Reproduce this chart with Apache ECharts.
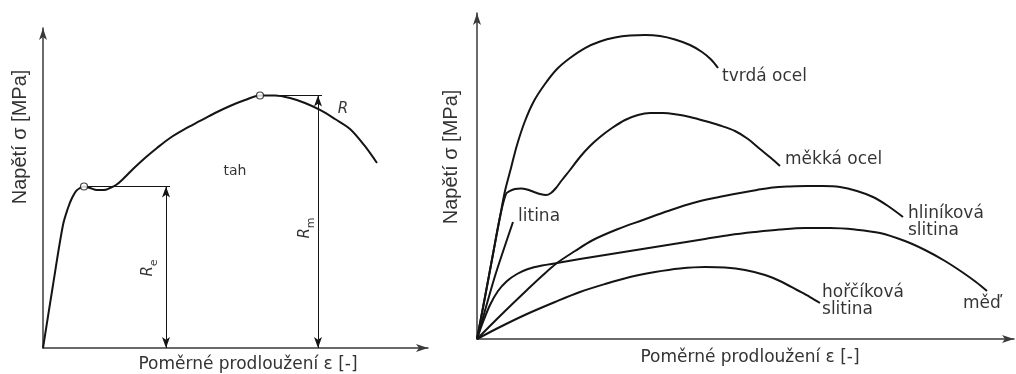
<!DOCTYPE html>
<html>
<head>
<meta charset="utf-8">
<script src="https://cdn.jsdelivr.net/npm/echarts@6/dist/echarts.min.js"></script>
<style>
html,body{margin:0;padding:0;background:#fff;}
#chart{width:1016px;height:374px;}
</style>
</head>
<body>
<div id="chart"></div>
<script>
// ---------- data (arbitrary units 0..100 on each panel) ----------
// Left panel: single stress-strain curve (tension)
const tahCurve = [[0,0],[2.60,19.69],[5.19,38.44],[6.49,43.75],[7.53,46.88],[8.57,49.06],[9.61,50.0],[10.65,50.47],[12.21,50.0],[14.03,49.38],[15.84,49.38],[17.40,50.0],[18.96,50.94],[20.78,52.81],[23.38,55.94],[26.49,59.38],[29.61,62.5],[32.99,65.63],[36.88,68.44],[40.78,70.94],[44.68,73.44],[48.57,75.63],[52.47,77.5],[56.36,78.91],[60.26,78.91],[64.16,78.13],[68.05,76.56],[71.95,74.38],[75.84,71.56],[79.74,68.44],[83.38,63.44],[86.75,57.81]];
const yieldPoint = [10.65, 50.47];
const peakPoint = [56.36, 78.91];
const reDimX = 31.95, reLineEnd = 32.99;
const rmDimX = 71.43, rmLineEnd = 72.47;

// Right panel: material curves
const tvrdaOcel = [[0,0],[1.49,12.88],[2.98,26.07],[4.28,37.42],[5.21,45.40],[6.33,52.45],[7.45,59.51],[8.94,66.87],[10.61,73.01],[12.66,78.22],[14.90,82.82],[17.32,86.20],[20.11,89.26],[22.91,91.26],[25.70,92.48],[28.49,93.10],[31.28,93.25],[34.08,92.94],[36.87,91.87],[39.66,90.18],[41.90,88.04],[43.58,85.74],[44.88,83.13]];
const mekkaOcel = [[0,0],[1.49,12.88],[2.98,26.07],[4.28,37.42],[5.40,44.48],[6.15,45.40],[7.08,46.01],[8.19,46.17],[9.31,45.86],[10.61,45.09],[11.73,44.48],[12.85,44.17],[13.78,44.79],[14.71,46.32],[15.83,48.77],[17.32,51.84],[19.18,55.83],[21.04,59.20],[22.91,61.96],[25.14,64.72],[27.56,67.18],[29.98,68.71],[32.22,69.33],[34.64,69.33],[37.24,68.87],[39.66,68.10],[42.46,66.87],[45.25,65.49],[48.04,63.80],[50.47,61.35],[52.70,58.28],[54.75,55.52],[56.42,53.07]];
const litina = [[0,0],[3.35,19.33],[6.70,35.9]];
const hlinikova = [[0,0],[4.66,7.67],[9.31,15.03],[12.10,19.33],[14.90,23.31],[18.25,26.99],[21.60,30.37],[26.26,33.74],[30.91,36.50],[35.57,39.26],[40.22,41.72],[44.69,43.40],[48.98,44.79],[52.14,45.71],[55.12,46.47],[58.29,46.78],[61.45,46.93],[64.43,46.93],[67.60,46.63],[70.76,45.40],[73.74,43.56],[76.54,40.80],[79.33,37.42]];
const med = [[0,0],[1.12,5.21],[2.42,10.43],[3.91,14.72],[5.59,17.79],[7.45,19.94],[9.50,21.47],[12.10,22.55],[14.90,23.31],[19.18,24.54],[23.84,25.77],[28.49,26.99],[33.15,28.22],[37.80,29.45],[42.46,30.67],[47.11,31.90],[51.77,32.82],[56.42,33.59],[61.08,34.05],[65.74,34.05],[70.39,33.59],[75.05,32.52],[79.70,30.06],[83.43,27.30],[87.15,23.93],[90.32,20.55],[92.92,17.48],[94.97,14.72]];
const horcikova = [[0,0],[4.28,3.68],[9.31,7.67],[14.53,11.35],[19.18,14.42],[23.84,16.87],[28.49,19.02],[33.15,20.55],[37.80,21.63],[42.46,22.09],[46.18,21.93],[49.91,21.17],[53.63,19.63],[56.80,17.48],[59.59,15.03],[62.01,12.88],[63.87,11.04]];

// Text annotations: [x, y, text]
const rightLabels = [
  [45.62, 80.4, 'tvrdá ocel'],
  [57.36, 54.9, 'měkká ocel'],
  [7.64, 37.4, 'litina'],
  [80.26, 36.0, 'hliníková\nslitina'],
  [64.25, 11.5, 'hořčíková\nslitina'],
  [90.5, 11.0, 'měď']
];
const tahLabel = [49.87, 55.3, 'tah'];
const rLabel = [77.9, 74.7, 'R'];
const reLabel = [27.8, 25.0];
const rmLabel = [68.6, 37.5];

const yTitle = 'Napětí σ [MPa]';
const xTitle = 'Poměrné prodloužení ε [-]';

// ---------- chart ----------
const INK = '#141414';
const TXT = '#000000';
const AXIS = '#3a3a3a';
const chart = echarts.init(document.getElementById('chart'), null, {renderer:'canvas'});

function axisX(gi){
  return {gridIndex:gi, type:'value', min:0, max:100,
    axisLine:{show:true, onZero:false, symbol:['none','arrow'], symbolSize:[6,12], lineStyle:{color:AXIS, width:1.5}},
    axisTick:{show:false}, axisLabel:{show:false}, splitLine:{show:false}};
}
function axisY(gi){
  return {gridIndex:gi, type:'value', min:0, max:100,
    axisLine:{show:true, onZero:false, symbol:['none','arrow'], symbolSize:[6,12], lineStyle:{color:AXIS, width:1.5}},
    axisTick:{show:false}, axisLabel:{show:false}, splitLine:{show:false}};
}
function curve(gi, data, name){
  return {type:'line', name, xAxisIndex:gi, yAxisIndex:gi, data, smooth:0.33, showSymbol:false, silent:true,
    lineStyle:{color:INK, width:2}, z:3};
}
const dimStyle = {color:INK, width:1, type:'solid'};
const arrowEnd = {symbol:'arrow', symbolSize:[6,11]};
const noEnd = {symbol:'none'};

const labelFont = 'DejaVu Sans';
const subRich = {
  r:{fontFamily:labelFont, fontSize:15, fontStyle:'italic', color:TXT, verticalAlign:'top', lineHeight:15},
  s:{fontFamily:labelFont, fontSize:11, color:TXT, verticalAlign:'bottom', lineHeight:19}
};

const option = {
  backgroundColor:'#ffffff',
  animation:false,
  grid:[
    {left:43, top:28, width:385, height:320},
    {left:477, top:13, width:537, height:326}
  ],
  xAxis:[axisX(0), axisX(1)],
  yAxis:[axisY(0), axisY(1)],
  series:[
    Object.assign(curve(0, tahCurve, 'tah'), {
      markLine:{silent:true, symbol:['none','none'], label:{show:false}, lineStyle:dimStyle,
        data:[
          [Object.assign({coord:yieldPoint}, noEnd), Object.assign({coord:[reLineEnd, yieldPoint[1]]}, noEnd)],
          [Object.assign({coord:[reDimX, yieldPoint[1]]}, arrowEnd), Object.assign({coord:[reDimX, 0]}, arrowEnd)],
          [Object.assign({coord:peakPoint}, noEnd), Object.assign({coord:[rmLineEnd, peakPoint[1]]}, noEnd)],
          [Object.assign({coord:[rmDimX, peakPoint[1]]}, arrowEnd), Object.assign({coord:[rmDimX, 0]}, arrowEnd)]
        ]}
    }),
    {type:'scatter', xAxisIndex:0, yAxisIndex:0, data:[yieldPoint, peakPoint], symbol:'circle', symbolSize:7, silent:true,
      itemStyle:{color:'#fff', borderColor:INK, borderWidth:1.2}, z:5},
    {type:'scatter', xAxisIndex:0, yAxisIndex:0, symbolSize:0, silent:true,
      data:[
        {value:[tahLabel[0], tahLabel[1]], label:{show:true, position:'inside', formatter:tahLabel[2], fontFamily:labelFont, fontSize:14, color:TXT}},
        {value:[rLabel[0], rLabel[1]], label:{show:true, position:'inside', formatter:rLabel[2], fontFamily:labelFont, fontSize:15, fontStyle:'italic', color:TXT}},
        {value:reLabel, label:{show:true, position:'inside', rotate:90, formatter:'{r|R}{s|e}', color:TXT, rich:subRich}},
        {value:rmLabel, label:{show:true, position:'inside', rotate:90, formatter:'{r|R}{s|m}', color:TXT, rich:subRich}}
      ], z:6},
    curve(1, tvrdaOcel, 'tvrdá ocel'),
    curve(1, mekkaOcel, 'měkká ocel'),
    Object.assign(curve(1, litina, 'litina'), {smooth:0.2}),
    curve(1, hlinikova, 'hliníková slitina'),
    curve(1, med, 'měď'),
    curve(1, horcikova, 'hořčíková slitina'),
    {type:'scatter', xAxisIndex:1, yAxisIndex:1, symbolSize:0, silent:true,
      data: rightLabels.map(l => ({value:[l[0], l[1]], label:{show:true, position:'right', distance:0, formatter:l[2],
        fontFamily:labelFont, fontSize:17, lineHeight:17, color:TXT, align:'left'}})), z:6}
  ],
  graphic:[
    {type:'text', x:20, y:137, rotation:Math.PI/2, style:{text:yTitle, font:'20px "Liberation Sans"', fill:'#333', align:'center', verticalAlign:'middle'}},
    {type:'text', x:451, y:157, rotation:Math.PI/2, style:{text:yTitle, font:'20px "Liberation Sans"', fill:'#333', align:'center', verticalAlign:'middle'}},
    {type:'text', x:248, y:365, style:{text:xTitle, font:'17px "DejaVu Sans"', fill:'#333', align:'center', verticalAlign:'middle'}},
    {type:'text', x:750, y:358, style:{text:xTitle, font:'17px "DejaVu Sans"', fill:'#333', align:'center', verticalAlign:'middle'}}
  ]
};
chart.setOption(option);
</script>
</body>
</html>
